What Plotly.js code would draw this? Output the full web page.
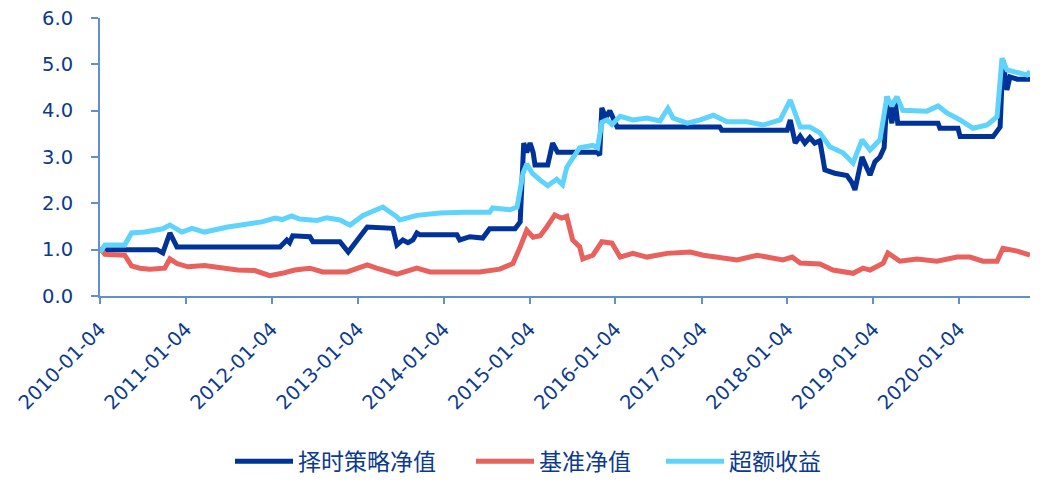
<!DOCTYPE html>
<html>
<head>
<meta charset="utf-8">
<script src="https://cdn.plot.ly/plotly-3.0.1.min.js"></script>
<style>html,body{margin:0;padding:0;background:#fff;}#chart{width:1044px;height:483px;}</style>
</head>
<body>
<div id="chart"></div>
<script>
// 择时策略净值
const stratDates = ['2010-01-04','2010-09-03','2010-09-28','2010-10-28','2010-11-27','2012-02-08','2012-03-08','2012-03-20','2012-04-02','2012-05-23','2012-06-14','2012-06-27','2012-10-20','2012-11-24','2012-12-23','2013-02-13','2013-06-02','2013-06-19','2013-07-14','2013-08-05','2013-08-26','2013-09-12','2013-09-25','2014-03-01','2014-03-13','2014-04-25','2014-06-19','2014-07-18','2014-11-03','2014-11-25','2014-12-10','2014-12-23','2015-01-06','2015-01-19','2015-01-27','2015-03-22','2015-04-12','2015-05-03','2015-10-20','2015-10-29','2015-11-07','2015-11-24','2015-12-11','2015-12-24','2016-01-11','2017-03-22','2017-03-31','2018-01-03','2018-01-16','2018-02-06','2018-02-27','2018-03-19','2018-04-09','2018-04-30','2018-05-22','2018-06-12','2018-07-24','2018-09-14','2018-10-05','2018-10-18','2018-10-30','2018-11-17','2018-12-04','2018-12-21','2019-01-11','2019-02-01','2019-02-19','2019-03-03','2019-03-24','2019-04-06','2019-04-18','2019-10-06','2019-10-14','2019-12-30','2020-01-08','2020-05-27','2020-06-26','2020-07-08','2020-07-25','2020-08-07','2020-09-07','2020-10-31'];
const stratVals = [1.0,1.0,0.93,1.36,1.06,1.06,1.21,1.15,1.3,1.3,1.28,1.17,1.17,0.95,1.14,1.49,1.46,1.1,1.21,1.15,1.21,1.36,1.32,1.32,1.21,1.28,1.25,1.45,1.45,1.6,3.3,3.1,3.3,3.1,2.83,2.83,3.3,3.1,3.1,3.04,4.06,3.85,4.0,3.85,3.65,3.65,3.58,3.58,3.8,3.3,3.45,3.3,3.42,3.3,3.35,2.72,2.65,2.6,2.45,2.29,2.6,3.0,2.8,2.61,2.9,3.0,3.2,4.3,3.73,4.23,3.73,3.73,3.62,3.62,3.44,3.44,3.65,5.09,4.45,4.73,4.68,4.68];

// 基准净值
const benchDates = ['2010-01-04','2010-01-25','2010-04-19','2010-05-18','2010-06-22','2010-08-03','2010-10-06','2010-10-28','2010-11-27','2011-01-13','2011-03-24','2011-06-05','2011-08-12','2011-10-24','2011-12-27','2012-02-17','2012-04-11','2012-06-14','2012-08-08','2012-11-19','2013-02-13','2013-03-25','2013-06-19','2013-09-12','2013-11-07','2014-03-01','2014-06-06','2014-08-30','2014-10-25','2014-11-25','2014-12-23','2015-01-19','2015-02-18','2015-03-18','2015-04-21','2015-05-20','2015-06-11','2015-07-06','2015-08-05','2015-08-18','2015-09-30','2015-11-07','2015-12-20','2016-01-24','2016-03-18','2016-05-17','2016-08-10','2016-11-17','2017-01-11','2017-06-04','2017-08-28','2017-12-16','2018-01-24','2018-02-27','2018-05-22','2018-07-16','2018-10-10','2018-11-21','2018-12-21','2019-02-15','2019-03-07','2019-04-27','2019-07-08','2019-10-01','2019-12-26','2020-02-19','2020-04-14','2020-06-13','2020-07-08','2020-09-07','2020-10-31'];
const benchVals = [1.03,0.9,0.88,0.65,0.6,0.58,0.6,0.8,0.7,0.63,0.66,0.6,0.56,0.55,0.44,0.49,0.56,0.6,0.52,0.52,0.67,0.6,0.47,0.6,0.52,0.52,0.52,0.58,0.7,1.06,1.42,1.27,1.3,1.49,1.75,1.68,1.72,1.21,1.06,0.8,0.88,1.17,1.14,0.84,0.92,0.84,0.92,0.95,0.88,0.78,0.88,0.78,0.84,0.71,0.69,0.56,0.49,0.6,0.56,0.71,0.93,0.75,0.8,0.75,0.84,0.84,0.75,0.75,1.03,0.97,0.88];

// 超额收益
const excessDates = ['2010-01-04','2010-01-25','2010-04-19','2010-05-18','2010-07-13','2010-08-24','2010-09-28','2010-10-28','2010-12-18','2011-01-30','2011-03-24','2011-07-01','2011-10-11','2011-11-23','2012-01-18','2012-02-17','2012-03-28','2012-05-02','2012-07-14','2012-08-25','2012-10-20','2012-12-02','2013-01-26','2013-04-20','2013-06-19','2013-07-01','2013-09-12','2013-12-19','2014-04-03','2014-07-18','2014-07-31','2014-10-12','2014-11-12','2014-12-07','2014-12-23','2015-01-15','2015-02-18','2015-03-22','2015-04-29','2015-05-24','2015-06-11','2015-07-06','2015-08-05','2015-09-30','2015-10-20','2015-11-07','2015-11-29','2015-12-20','2016-01-24','2016-03-18','2016-05-17','2016-07-11','2016-08-14','2016-09-05','2016-11-04','2016-12-29','2017-02-23','2017-04-22','2017-07-16','2017-09-22','2017-12-04','2018-01-16','2018-02-06','2018-02-27','2018-04-09','2018-05-22','2018-07-03','2018-08-28','2018-10-10','2018-11-17','2018-12-21','2019-02-01','2019-03-03','2019-03-24','2019-04-14','2019-05-09','2019-08-20','2019-10-06','2019-11-13','2020-01-08','2020-03-03','2020-05-02','2020-06-13','2020-07-04','2020-07-25','2020-08-20','2020-10-18','2020-10-31'];
const excessVals = [0.95,1.1,1.1,1.36,1.38,1.42,1.45,1.53,1.38,1.46,1.38,1.49,1.58,1.6,1.68,1.65,1.73,1.66,1.63,1.69,1.64,1.53,1.74,1.92,1.71,1.64,1.74,1.79,1.81,1.81,1.9,1.86,1.92,2.65,2.85,2.65,2.5,2.38,2.52,2.4,2.78,2.97,3.2,3.25,3.2,3.75,3.8,3.7,3.88,3.8,3.84,3.78,4.05,3.84,3.73,3.8,3.9,3.76,3.76,3.69,3.8,4.23,3.95,3.65,3.65,3.52,3.22,3.09,2.87,3.37,3.15,3.37,4.3,4.1,4.3,4.01,3.99,4.1,3.95,3.8,3.62,3.69,3.87,5.13,4.88,4.85,4.77,4.85];

const tickDates = ['2010-01-04','2011-01-04','2012-01-04','2013-01-04','2014-01-04','2015-01-04','2016-01-04','2017-01-04','2018-01-04','2019-01-04','2020-01-04'];
const yTicks = [0,1,2,3,4,5,6];
const yTickText = ['0.0','1.0','2.0','3.0','4.0','5.0','6.0'];
const seriesNames = ['择时策略净值','基准净值','超额收益'];

const txtColor = '#0b3a8e';
const axColor = '#6290cc';
const tickFont = '"DejaVu Sans", "Liberation Sans", Arial, sans-serif';
const legFont = {family:'"Noto Sans CJK SC", sans-serif', size:23, color:txtColor};

const traces = [
  {x: stratDates, y: stratVals, name: seriesNames[0], legend:'legend', type:'scatter', mode:'lines', line:{color:'#003399', width:5}},
  {x: benchDates, y: benchVals, name: seriesNames[1], legend:'legend2', type:'scatter', mode:'lines', line:{color:'#e8615c', width:5}},
  {x: excessDates, y: excessVals, name: seriesNames[2], legend:'legend3', type:'scatter', mode:'lines', line:{color:'#5ed3fb', width:5}}
];

function leg(px) {
  return {orientation:'h', xref:'container', x:px/1044, xanchor:'left', yref:'container', y:0.045, yanchor:'middle',
          font:legFont, itemwidth:58, bgcolor:'rgba(0,0,0,0)'};
}

const layout = {
  width:1044, height:483,
  margin:{l:100, r:14, t:18, b:187},
  paper_bgcolor:'#fff', plot_bgcolor:'#fff',
  font:{family:tickFont, color:txtColor, size:19.5},
  showlegend:true,
  legend: leg(230),
  legend2: leg(471),
  legend3: leg(661),
  xaxis:{type:'date', range:['2010-01-04','2020-10-31'], tickmode:'array', tickvals:tickDates, ticktext:tickDates,
         tickangle:-45, showgrid:false, zeroline:false, showline:true, linecolor:axColor, linewidth:2,
         ticks:'outside', ticklen:6, tickwidth:2, tickcolor:axColor, ticklabelstandoff:6, automargin:false,
         tickfont:{family:tickFont, size:19.5, color:txtColor}},
  yaxis:{range:[0,6], tickmode:'array', tickvals:yTicks, ticktext:yTickText, showgrid:false, zeroline:false,
         showline:true, linecolor:axColor, linewidth:2, ticks:'outside', ticklen:7, tickwidth:2, tickcolor:axColor,
         ticklabelstandoff:14, automargin:false, tickfont:{family:tickFont, size:19.5, color:txtColor}}
};

Plotly.newPlot('chart', traces, layout, {displayModeBar:false, staticPlot:true});
</script>
</body>
</html>
